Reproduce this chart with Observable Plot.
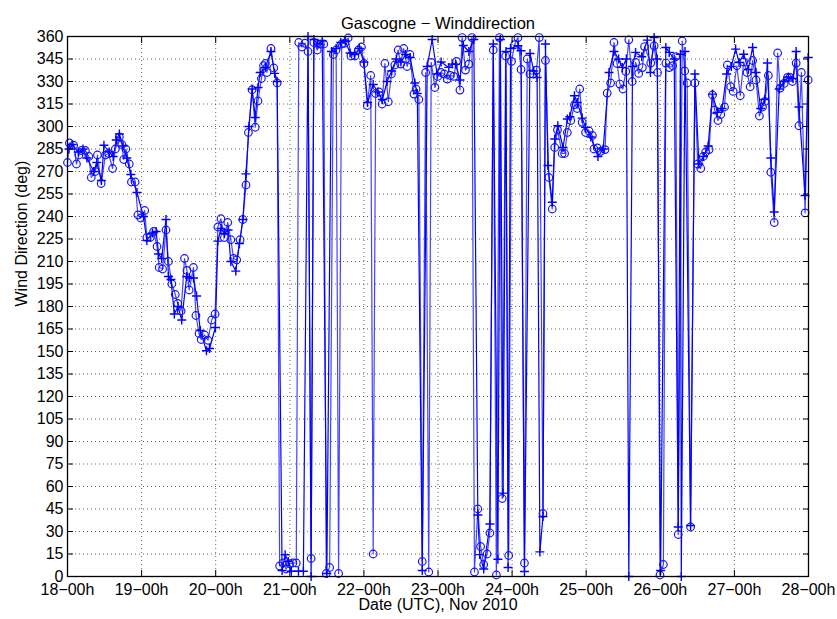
<!DOCTYPE html>
<html>
<head>
<meta charset="utf-8">
<script src="https://cdn.jsdelivr.net/npm/d3@7"></script>
<script src="https://cdn.jsdelivr.net/npm/@observablehq/plot@0.6"></script>
<style>
  html, body { margin: 0; padding: 0; background: #fff; }
</style>
</head>
<body>
<div id="chart"></div>
<script>
// Hours since 2010-11-18 00:00 UTC and wind direction (deg)
const circleHours = [0,0.6,2.0,2.9,3.7,4.5,5.8,6.9,7.7,9.0,9.7,10.9,12.3,13.3,14.6,15.5,16.8,17.6,18.2,18.9,20.0,20.7,21.9,22.8,23.7,25.0,25.7,26.8,27.9,29.0,29.7,30.8,31.9,32.7,33.8,34.9,35.7,36.8,37.9,38.7,39.4,40.8,41.6,42.6,43.3,44.4,45.5,46.7,47.8,48.7,49.7,50.8,51.9,52.9,53.8,54.8,55.9,56.8,57.8,58.6,59.8,60.8,61.7,62.8,63.5,64.1,64.6,65.9,66.8,67.9,
  68.7,69.8,70.8,71.9,73.0,74.1,74.9,75.9,76.9,77.9,78.9,79.8,80.9,81.9,83.0,83.8,84.9,86.1,87.0,87.8,88.8,89.8,90.9,91.8,93.1,94.2,95.2,96.0,97.1,98.2,99.0,99.8,100.9,101.9,102.8,103.9,104.9,106.0,107.1,107.9,108.9,110.0,110.9,112.2,112.9,113.8,114.9,116.0,117.0,117.8,119.0,119.9,121.0,122.0,123.0,124.0,125.1,126.0,127.1,127.8,128.9,130.0,131.0,131.8,132.9,133.8,134.8,135.9,136.8,137.9,138.9,139.9,140.8,141.9,142.9,143.8,144.8,145.9,146.9,148.0,148.9,149.8,150.8,151.9,152.8,154.0,154.8,155.9,157.0,157.8,158.7,160.2,161.0,161.9,163.0,164.2,165.1,165.9,166.7,167.8,168.9,170.0,170.5,171.6,172.7,174.1,174.8,175.9,177.0,178.0,178.9,179.9,180.8,181.8,182.9,184.0,185.0,186.2,186.9,188.9,190.0,191.1,191.9,193.0,193.8,194.9,196.0,197.0,197.8,199.1,199.9,200.7,201.8,203.2,204.1,205.1,205.9,206.7,207.8,208.9,209.6,210.7,211.6,212.8,213.7,214.8,215.6,216.8,217.9,219.0,220.1,221.1,221.9,223.0,224.1,225.1,225.9,227.0,227.8,228.9,230.0,230.8,232.1,233.2,234.0,234.8,236.0,236.9,237.7,238.9,239.9];
const circleDeg = [276,289,287.5,275,281,284,284,280,266,270,281,262,281,282,272,285,293,288,278,285,275,263,263,241,239,244,226,226,230,220,206,205,231,210,195,188,182,177,212,204,191,206,174,162,158,161,157.5,171,175,233,238.5,226,236,224.5,212,211,224.5,238,261,296,324.5,299.5,317,332,340.5,342,336,352,339,329,
  7,9,5,8.5,9,9,356,353,355.5,350,12,356,351,355,355,2,6,348,351,2,355,355.5,359,347,347,351,353,342,314,334,15,322,323,315,342,316.5,335,341,351,341.6,352,340,348,321.6,325,318,10,336,3,342.7,326,333.4,336,335,331.6,334,333.4,343.4,324.3,359.3,337.6,341.6,359.3,3,45,20,8,15,29,351,1,359.3,52,347,14,343.4,354.5,359.3,338,9,345,335,335,337.6,359.3,42,344,266,245,286,297.7,282,282,296,304,314.5,312,325,302.8,296,297,294,285,285.7,283.5,284.6,322.3,329,356,342,328.3,325,336.7,357.8,330,342.7,335.4,339.3,353.3,342.3,353.8,336,1,8,342.3,339.3,340.5,346.5,28,357,337,329,33,329,275,272,280,283,284.6,321,311,304,308,313,341,326.5,323.4,340.5,320.5,343,336,326.5,344,331,307,313,316.7,334,269.5,236,349,325.6,328.7,332.7,332.7,330,342.3,300.5,336,242.4,331];

const plusHours = [0.5,1.5,3.5,5.0,6.3,8.5,9.5,11.0,11.8,13.5,14.8,15.8,16.8,18.0,19.2,20.5,22.5,24.6,25.7,27.5,28.7,29.5,30.5,31.9,32.7,33.5,34.6,35.8,37.0,38.6,39.5,40.8,41.8,43.0,45.0,46.0,47.9,48.7,49.7,50.8,52.0,52.9,54.5,55.7,56.8,57.8,58.8,59.8,60.8,61.7,62.4,64.1,65.9,67.1,67.9,
  69.5,70.5,71.5,72.5,74.8,76.4,77.9,78.9,79.8,81.0,82.5,84.0,85.5,87.0,88.5,90.0,91.5,93.0,94.5,96.0,97.2,99.0,100.5,102.0,103.5,105.0,106.5,108.0,109.5,111.0,112.5,113.3,114.9,116.5,118.1,119.7,121.0,123.5,124.6,125.7,127.1,128.2,130.0,131.6,132.9,133.5,134.8,136.8,137.9,139.4,140.2,141.1,142.0,142.7,143.5,145.9,146.9,148.0,149.8,151.0,152.1,153.0,154.0,154.8,155.6,157.0,157.8,158.8,160.5,161.9,162.7,164.2,165.1,166.7,167.8,169.5,171.8,173.5,175.4,177.0,178.5,179.7,181.0,181.8,183.0,184.0,186.0,187.8,188.8,190.0,191.0,192.1,193.8,194.9,196.5,197.8,198.5,198.8,200.0,201.8,203.2,204.5,206.0,207.5,208.9,210.5,212.0,213.5,215.0,216.4,217.5,219.0,220.5,221.9,223.0,224.5,225.8,226.7,227.8,228.9,230.5,232.0,233.5,235.0,236.0,236.9,238.9,239.9];
const plusDeg = [285,288,283,285,279,270,276,264,287.5,283,280,291,295,287,279,268,256,240,224,229,230,215,212,238,200,198,175,180,171,200,199,199,187,164,150.5,152,166,223.6,232,228.5,231,210,203.6,222,238,268.4,300,325,306,326,336,339.4,350,335.4,330,
  4,14.5,10,3.5,3.5,3.5,360,0,358,355,357,2,350,352,356,357,349,348,352,343,316,328,323,318,330,337,345,343,348,346,329,322,4,340,358,335,343,339.4,341.6,341.6,331,354,350,358,41,14.6,5,35,355,11.5,358,55.6,350,6,352,353.8,350.5,3.3,348.7,337,332.7,16.4,40,355,274,249.5,291.7,300.5,286,305,306.5,320.5,316,305.6,299.4,293,280,285,336,350,345,339.4,345,0,340,349.4,346.5,357.6,336,359.3,345,4,352.7,349.4,345,33,348.2,0,350,34,335,275,280,287,321.6,309.4,312,335,340,351.6,342.7,348.2,338,352.7,336,312,318,342.3,279,243,325,330,333,332,350,313,254,346];

const yTicks = d3.range(0, 361, 15);
const dayTicks = d3.range(18, 29);
const t0 = Date.UTC(2010, 10, 18);
const toDate = h => new Date(t0 + h * 3600e3);
const xTicks = dayTicks.map(d => new Date(Date.UTC(2010, 10, d)));

const circles = circleHours.map((h, i) => ({t: toDate(h), v: circleDeg[i]}));
const pluses = plusHours.map((h, i) => ({t: toDate(h), v: plusDeg[i]}));

const plusSymbol = {
  draw(ctx, size) {
    const r = Math.sqrt(size / Math.PI);
    ctx.moveTo(-r, 0); ctx.lineTo(r, 0);
    ctx.moveTo(0, -r); ctx.lineTo(0, r);
  }
};

const chart = Plot.plot({
  width: 837,
  height: 619,
  marginLeft: 67,
  marginRight: 29,
  marginTop: 36,
  marginBottom: 43,
  style: {fontFamily: "'Liberation Sans', Arial, sans-serif", fontSize: "16px", background: "#fff", color: "#000"},
  x: {type: "utc", domain: [xTicks[0], xTicks[xTicks.length - 1]]},
  y: {domain: [0, 360]},
  marks: [
    Plot.gridY(yTicks, {stroke: "#000", strokeOpacity: 0.6, strokeDasharray: "1,3"}),
    Plot.gridX(xTicks, {stroke: "#000", strokeOpacity: 0.6, strokeDasharray: "1,3"}),
    Plot.line(circles, {x: "t", y: "v", stroke: "#4444ff", strokeWidth: 1.2}),
    Plot.line(pluses, {x: "t", y: "v", stroke: "#0000ff", strokeWidth: 1.2}),
    Plot.dot(circles, {x: "t", y: "v", r: 3.8, stroke: "#1414ff", fill: "none", strokeWidth: 1.2}),
    Plot.dot(pluses, {x: "t", y: "v", r: 4.5, symbol: plusSymbol, stroke: "#0000ff", fill: "none", strokeWidth: 1.4}),
    Plot.axisY(yTicks, {anchor: "left", tickSize: -6, tickPadding: 10, label: null}),
    Plot.axisY(yTicks, {anchor: "right", tickSize: -6, tickFormat: () => "", label: null}),
    Plot.axisX(xTicks, {anchor: "bottom", tickSize: -6, tickPadding: 13, label: null,
      tickFormat: d => `${d.getUTCDate()}\u221200h`}),
    Plot.axisX(xTicks, {anchor: "top", tickSize: -6, tickFormat: () => "", label: null}),
    Plot.frame({stroke: "#000", strokeWidth: 1.3}),
    Plot.text(["Gascogne \u2212 Winddirection"], {text: d => d, frameAnchor: "top", dy: -19, fontSize: 16.5}),
    Plot.text(["Date (UTC), Nov 2010"], {text: d => d, frameAnchor: "bottom", dy: 33.5, fontSize: 16}),
    Plot.text(["Wind Direction (deg)"], {text: d => d, frameAnchor: "left", dx: -46, rotate: -90, fontSize: 16})
  ]
});
document.getElementById("chart").appendChild(chart);
</script>
</body>
</html>
